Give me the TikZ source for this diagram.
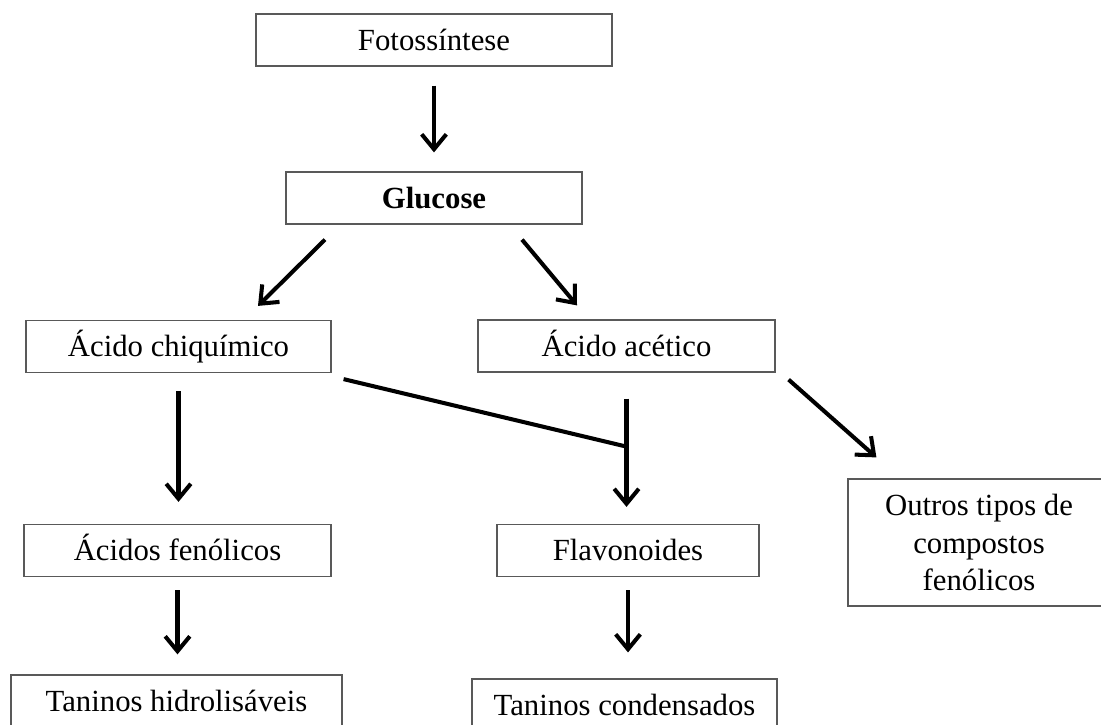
\documentclass[tikz,border=0pt]{standalone}
\usepackage{fontspec}
\setmainfont{Liberation Serif}
\usetikzlibrary{arrows.meta,calc}
\newcommand{\boxfont}{\fontsize{17.5}{21.5}\selectfont}

\begin{document}
\begin{tikzpicture}[x=0.02cm, y=-0.02cm,
    >={Straight Barb[length=8.5pt,width=14pt]},
    box/.style={draw=black!65, line width=0.7pt, minimum height=1.04cm,
      inner sep=2pt, align=center, font=\boxfont},
    onebox/.style={box, text height=14pt, text depth=2.5pt},
    flow/.style={->, line width=2.3pt}]
    \useasboundingbox (0,0) rectangle (1101,724);
    \clip (0,0) rectangle (1101,724);

    \node[onebox,minimum width=7.12cm] (foto) at (434,40) {Fotossíntese};
    \node[onebox,minimum width=5.92cm,font=\boxfont\bfseries] (glucose) at (434,198) {Glucose};
    \node[onebox,minimum width=6.1cm] (chiq) at (178.5,346.5) {Ácido chiquímico};
    \node[onebox,minimum width=5.94cm] (acet) at (626.5,346) {Ácido acético};
    \node[onebox,minimum width=6.14cm] (fenol) at (177.5,550.5) {Ácidos fenólicos};
    \node[onebox,minimum width=5.24cm] (flav) at (628,550.5) {Flavonoides};
    \node[box,minimum width=5.24cm,minimum height=2.54cm] (outros) at (979,542.5)
      {Outros tipos de\\compostos\\fenólicos};
    \node[onebox,minimum width=6.62cm] (hidro) at (176.5,701) {Taninos hidrolisáveis};
    \node[onebox,minimum width=6.1cm] (cond) at (624.5,705) {Taninos condensados};

    \coordinate (merge) at ($(acet.south)+(0,74)$);

    \draw[flow] ($(foto.south)+(0,19)$) -- ($(glucose.north)+(0,-19)$);
    \draw[flow] ($(glucose.south)+(-109,15)$) -- ($(chiq.north)+(79.5,-14)$);
    \draw[flow] ($(glucose.south)+(88,15)$) -- ($(acet.north)+(-49.5,-14)$);
    \draw[flow] ($(chiq.south)+(0,18)$) -- ($(chiq.south |- fenol.north)+(0,-22)$);
    \draw[flow] ($(acet.south)+(0,26)$) -- ($(acet.south |- flav.north)+(0,-17)$);
    \draw[line width=2.3pt] ($(chiq.south east)+(12,6)$) -- (merge);
    \draw[flow] ($(acet.south east)+(13,7)$) -- ($(outros.north west)+(29,-21)$);
    \draw[flow] ($(fenol.south)+(0,13)$) -- ($(fenol.south |- hidro.north)+(0,-20)$);
    \draw[flow] ($(flav.south)+(0,13)$) -- ($(flav.south |- cond.north)+(0,-26)$);
  \end{tikzpicture}
\end{document}
